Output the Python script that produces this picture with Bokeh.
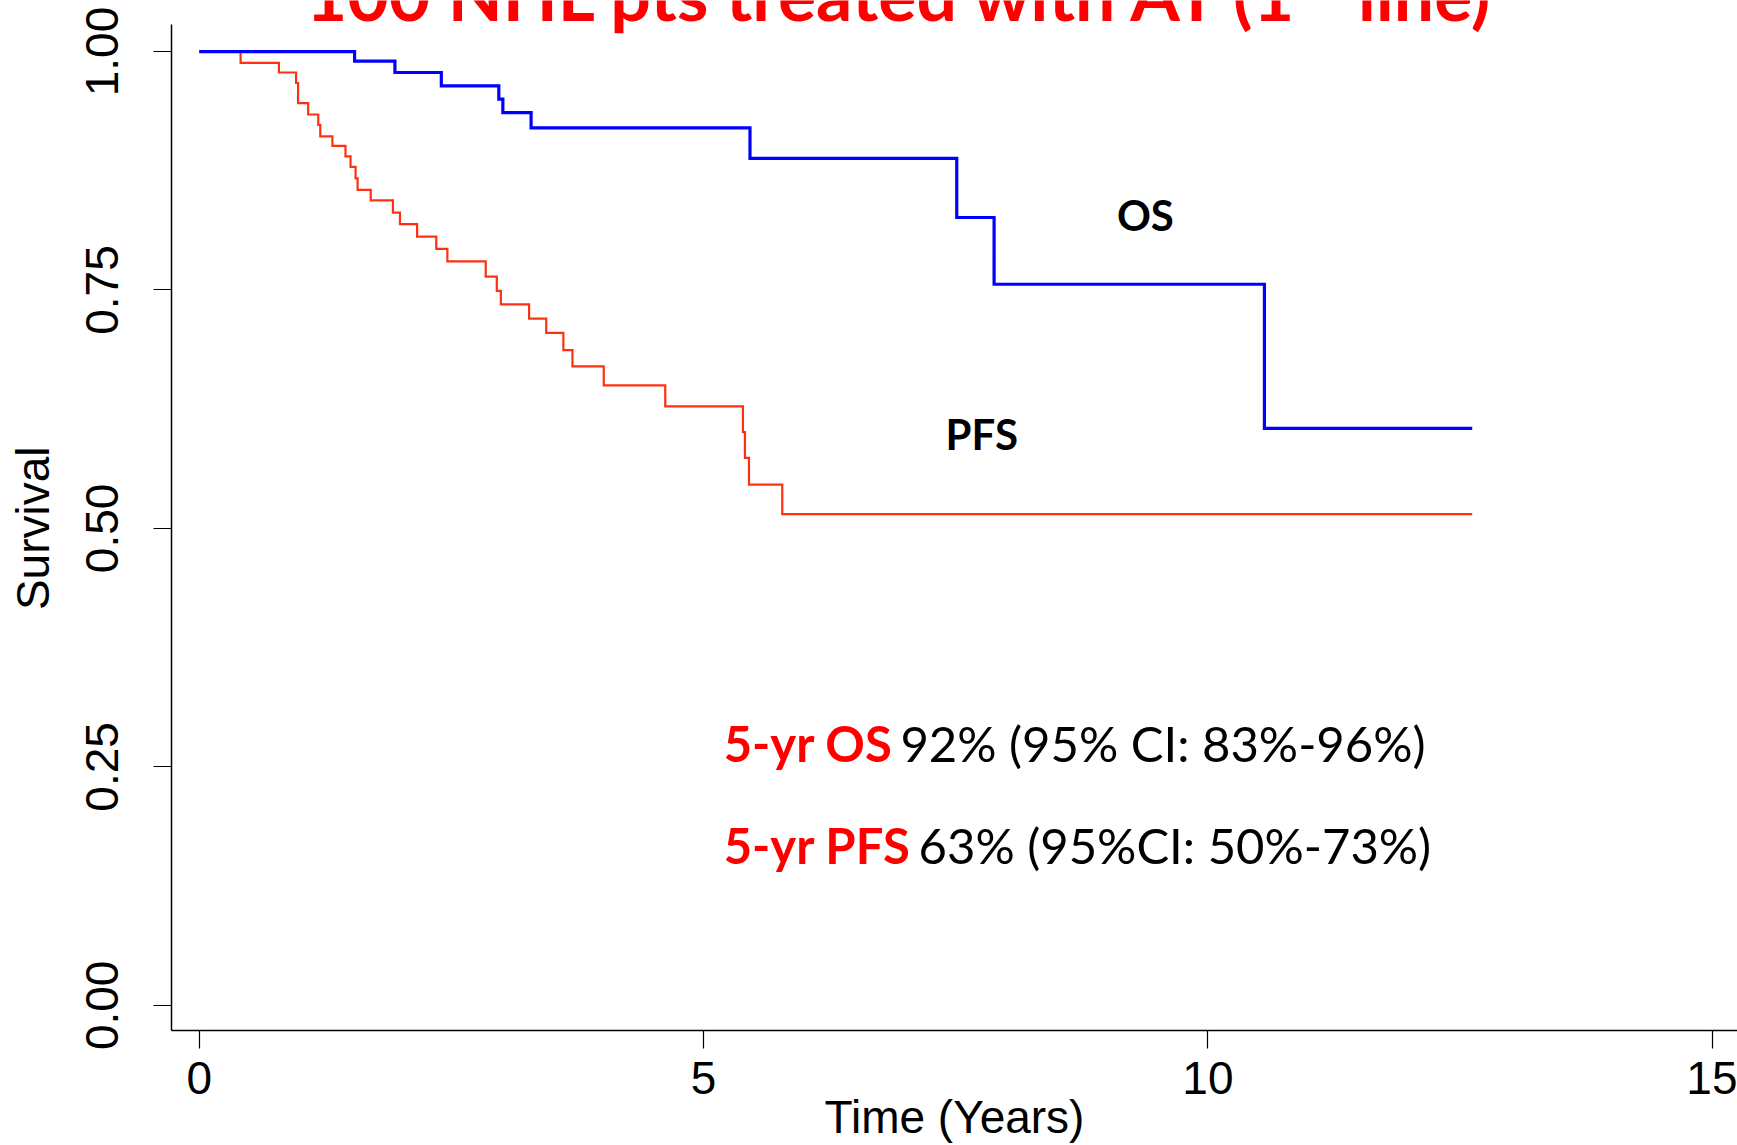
import math
from bokeh.plotting import figure
from bokeh.models import Range1d, FixedTicker, Label, NumeralTickFormatter
from bokeh.embed import file_html
from bokeh.resources import INLINE

# ---------------- data ----------------
os_time = [0.0, 1.54, 1.94, 2.40, 2.97, 3.01, 3.29, 5.46, 7.51, 7.88, 10.56, 12.62]
os_surv = [1.000, 0.990, 0.978, 0.964, 0.950, 0.936, 0.920, 0.888, 0.826, 0.756, 0.605, 0.605]

pfs_time = [0.0, 0.41, 0.79, 0.96, 0.98, 1.08, 1.18, 1.20, 1.32, 1.45, 1.50, 1.55, 1.57,
            1.70, 1.92, 1.99, 2.16, 2.35, 2.46, 2.84, 2.95, 2.99, 3.27, 3.44, 3.61, 3.70,
            4.01, 4.62, 5.39, 5.41, 5.45, 5.78, 12.62]
pfs_surv = [1.000, 0.988, 0.978, 0.967, 0.946, 0.934, 0.923, 0.911, 0.901, 0.890, 0.879,
            0.867, 0.855, 0.844, 0.831, 0.819, 0.806, 0.793, 0.780, 0.764, 0.749, 0.735,
            0.720, 0.705, 0.687, 0.670, 0.650, 0.628, 0.601, 0.574, 0.546, 0.515, 0.515]

x_ticks = [0, 5, 10, 15]
y_ticks = [0.0, 0.25, 0.5, 0.75, 1.0]

title_main = "100 NHL pts treated with AT (1"
title_sup = "st"
title_end = "line)"
x_title = "Time (Years)"
y_title = "Survival"
curve_labels = ["OS", "PFS"]
stat_heads = ["5-yr OS", "5-yr PFS"]
stat_texts = ["92% (95% CI: 83%-96%)", "63% (95%CI: 50%-73%)"]

# ---------------- figure ----------------
Y_LO, Y_HI = -0.0264, 1.0535
p = figure(width=1737, height=1145, output_backend="svg", toolbar_location=None,
           x_range=Range1d(-0.275, 15.25), y_range=Range1d(Y_LO, Y_HI),
           min_border_left=171, min_border_right=0, min_border_top=0, min_border_bottom=115)
p.outline_line_color = None
p.xgrid.visible = False
p.ygrid.visible = False
p.background_fill_color = "white"
p.border_fill_color = "white"

AX_FONT = "Liberation Sans"
for ax in (p.xaxis, p.yaxis):
    ax.axis_line_color = "black"
    ax.axis_line_width = 1.5
    ax.major_tick_line_color = "black"
    ax.major_tick_line_width = 1.2
    ax.major_tick_in = 0
    ax.major_tick_out = 18
    ax.minor_tick_line_color = None
    ax.major_label_text_font = AX_FONT
    ax.major_label_text_font_size = "46px"
    ax.major_label_text_color = "black"
    ax.axis_label_text_font = AX_FONT
    ax.axis_label_text_font_size = "46px"
    ax.axis_label_text_font_style = "normal"
    ax.axis_label_text_color = "black"

p.xaxis.ticker = FixedTicker(ticks=x_ticks)
p.xaxis.formatter = NumeralTickFormatter(format="0")
p.xaxis.major_label_standoff = 13
p.xaxis.axis_label = x_title
p.xaxis.axis_label_standoff = -6

p.yaxis.ticker = FixedTicker(ticks=y_ticks)
p.yaxis.formatter = NumeralTickFormatter(format="0.00")
p.yaxis.major_label_orientation = "vertical"
p.yaxis.major_label_standoff = 35
# two no-break spaces keep the label centred where the reference has it
p.yaxis.axis_label = y_title + "\u00a0\u00a0"
p.yaxis.axis_label_standoff = 25
p.yaxis.bounds = (Y_LO, 1.0283)

# curves
p.step(pfs_time, pfs_surv, mode="after", line_color="#FF3010", line_width=2.2, line_join="miter")
p.step(os_time, os_surv, mode="after", line_color="#0000FF", line_width=3.2, line_join="miter")

# title (cut at top of picture)
TF = "Lato"
p.add_layout(Label(x=1.057, y=1.0615, text=title_main, text_font=TF, text_font_style="bold",
                   text_font_size="71.5px", text_color="#FF0000", text_align="left",
                   text_baseline="alphabetic"))
p.add_layout(Label(x=10.86, y=1.14, text=title_sup, text_font=TF, text_font_style="bold",
                   text_font_size="44px", text_color="#FF0000", text_align="left",
                   text_baseline="alphabetic"))
p.add_layout(Label(x=12.80, y=1.0615, text=title_end, text_font=TF, text_font_style="bold",
                   text_font_size="71.5px", text_color="#FF0000", text_align="right",
                   text_baseline="alphabetic"))

# curve labels
p.add_layout(Label(x=9.38, y=0.8282, text=curve_labels[0], text_font=TF, text_font_style="bold",
                   text_font_size="42px", text_color="black", text_align="center",
                   text_baseline="alphabetic"))
p.add_layout(Label(x=7.757, y=0.5993, text=curve_labels[1], text_font=TF, text_font_style="bold",
                   text_font_size="42px", text_color="black", text_align="center",
                   text_baseline="alphabetic"))

# 5-year statistics
head_x = 5.199
text_x = [6.951, 7.131]
row_y = [0.2751, 0.1682]
for i in range(2):
    p.add_layout(Label(x=head_x, y=row_y[i], text=stat_heads[i], text_font=TF,
                       text_font_style="bold", text_font_size="49px", text_color="#FF0000",
                       text_align="left", text_baseline="alphabetic"))
    p.add_layout(Label(x=text_x[i], y=row_y[i], text=stat_texts[i], text_font=TF,
                       text_font_size="49px", text_color="black",
                       text_align="left", text_baseline="alphabetic"))

open("out.html", "w").write(file_html(p, INLINE))
